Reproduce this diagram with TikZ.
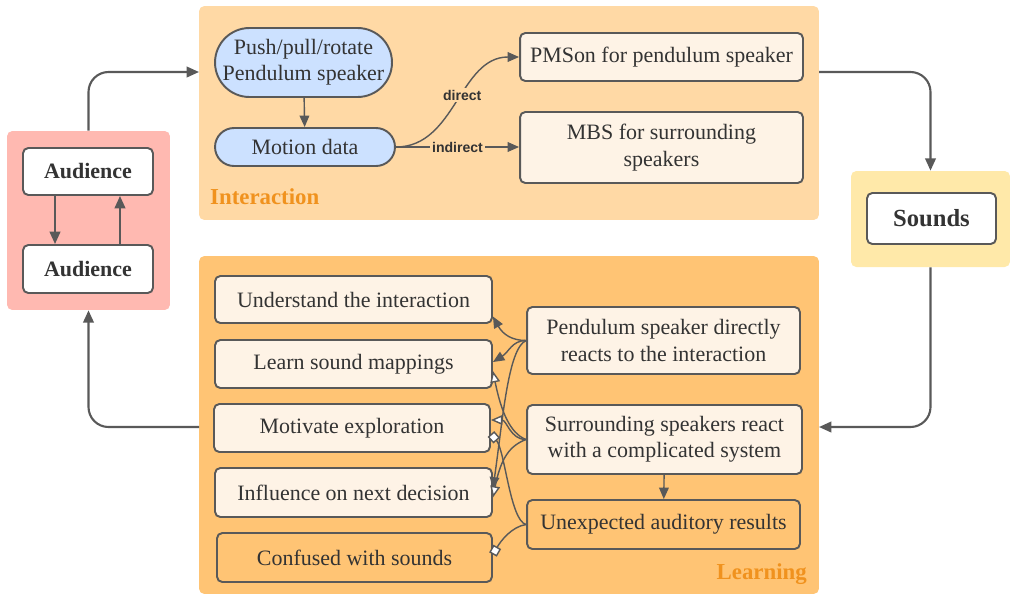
\documentclass[tikz,border=0pt]{standalone}
\usepackage{fontspec}
\setmainfont{Liberation Serif}
\newfontfamily\tagfont{Liberation Sans}
\usetikzlibrary{arrows.meta,positioning}

\definecolor{lineg}{HTML}{595959}
\definecolor{txtg}{HTML}{333333}
\definecolor{cream}{HTML}{FEF3E6}
\definecolor{skyblue}{HTML}{CCE1FF}
\definecolor{interfill}{HTML}{FFD9A5}
\definecolor{learnfill}{HTML}{FFC474}
\definecolor{audfill}{HTML}{FFB9B1}
\definecolor{sndfill}{HTML}{FFE9A9}
\definecolor{orangetxt}{HTML}{F0921E}

\tikzset{
  panel/.style={fill=#1, rounded corners=3pt, inner sep=0pt},
  box/.style={draw=lineg, line width=1.1pt, rounded corners=3pt, fill=cream,
    text=txtg, font=\fontsize{12.5}{15}\selectfont, align=center, inner sep=2pt},
  pill/.style={box, fill=skyblue, rounded corners=0.4cm},
  headbox/.style={box, fill=white, font=\fontsize{12.5}{15}\selectfont\bfseries},
  flow/.style={draw=lineg, line width=1.2pt, rounded corners=0.4cm,
    -{Triangle[length=7pt,width=6pt]}},
  link/.style={draw=lineg, line width=0.8pt, -{Triangle[length=6.5pt,width=5.5pt]}},
  openlink/.style={draw=lineg, line width=0.8pt, -{Triangle[open,length=6.5pt,width=5.5pt,fill=white]}},
  sqlink/.style={draw=lineg, line width=0.8pt, -{Square[open,length=5pt,width=5pt,fill=white]}},
  tag/.style={font=\tagfont\fontsize{8}{9}\selectfont\bfseries, text=txtg, inner sep=1pt},
  panelname/.style={font=\fontsize{13}{15}\selectfont\bfseries, text=orangetxt}
}

\begin{document}
\begin{tikzpicture}[x=0.02cm,y=-0.02cm]
  \useasboundingbox (0,0) rectangle (1010,596);

  % panels
  \node[panel=interfill, minimum width=12.4cm, minimum height=4.28cm] (interpanel) at (509,113) {};
  \node[panel=learnfill, minimum width=12.4cm, minimum height=6.76cm] (learnpanel) at (509,425) {};
  \node[panel=audfill, minimum width=3.26cm, minimum height=3.58cm] (audpanel) at (88.5,220.5) {};
  \node[panel=sndfill, minimum width=3.18cm, minimum height=1.92cm] (sndpanel) at (930.5,219) {};

  \node[panelname, anchor=west] (intername) at (204,197) {Interaction};
  \node[panelname, anchor=east] (learnname) at (813,574) {Learning};

  % audience
  \node[headbox, minimum width=2.6cm, minimum height=0.94cm] (aud1) at (88,171.5) {Audience};
  \node[headbox, minimum width=2.6cm, minimum height=0.96cm] (aud2) at (88,269) {Audience};
  \draw[flow] ([xshift=-0.66cm]aud1.south) -- ([xshift=-0.66cm]aud2.north);
  \draw[flow] ([xshift=0.64cm]aud2.north) -- ([xshift=0.64cm]aud1.south);

  % sounds
  \node[headbox, font=\fontsize{14}{16}\selectfont\bfseries, minimum width=2.58cm, minimum height=1.02cm] (snd) at (931.5,218.5) {Sounds};

  % interaction
  \node[pill, minimum width=3.54cm, minimum height=1.38cm, rounded corners=0.69cm] (push) at (303.5,62.5) {Push/pull/rotate\\Pendulum speaker};
  \node[pill, minimum width=3.6cm, minimum height=0.76cm, rounded corners=0.38cm] (motion) at (305,147) {Motion data};
  \node[box, minimum width=5.66cm, minimum height=0.96cm] (pmson) at (661.5,57) {PMSon for pendulum speaker};
  \node[box, minimum width=5.66cm, minimum height=1.42cm] (mbs) at (661.5,147.5) {MBS for surrounding\\speakers};

  \draw[link] (push) -- (motion);
  \draw[link] (motion.east) to[out=0,in=180] node[tag, pos=0.55, fill=interfill] {direct} (pmson.west);
  \draw[link] (motion.east) -- node[tag, pos=0.5, fill=interfill] {indirect} (motion.east -| mbs.west);

  % learning
  \node[box, minimum width=5.54cm, minimum height=0.94cm] (under) at (353.5,299.5) {Understand the interaction};
  \node[box, minimum width=5.54cm, minimum height=0.96cm] (learn) at (353.5,364) {Learn sound mappings};
  \node[box, minimum width=5.52cm, minimum height=0.96cm] (motiv) at (352,428) {Motivate exploration};
  \node[box, minimum width=5.54cm, minimum height=0.98cm] (infl) at (353.5,492.5) {Influence on next decision};
  \node[box, fill=learnfill, minimum width=5.5cm, minimum height=0.98cm] (confu) at (354.5,557.5) {Confused with sounds};
  \node[box, minimum width=5.46cm, minimum height=1.34cm] (pend) at (663.5,340.5) {Pendulum speaker directly\\reacts to the interaction};
  \node[box, minimum width=5.5cm, minimum height=1.38cm] (surr) at (664.5,439.5) {Surrounding speakers react\\with a complicated system};
  \node[box, fill=learnfill, minimum width=5.46cm, minimum height=0.98cm] (unexp) at (663.5,524.5) {Unexpected auditory results};

  \draw[link] (surr) -- (unexp);

  \draw[link] (pend.west) .. controls +(-14,0) and +(10,18) .. ([yshift=-0.34cm]under.east);
  \draw[link] (pend.west) .. controls +(-14,0) and +(16,-10) .. ([yshift=0.04cm]learn.east);
  \draw[link] (pend.west) .. controls +(-18,8) and +(10,-70) .. ([yshift=0.08cm]infl.east);
  \draw[openlink] (surr.west) .. controls +(-16,-6) and +(8,40) .. ([yshift=-0.14cm]learn.east);
  \draw[openlink] (surr.west) .. controls +(-16,0) and +(16,0) .. ([yshift=0.16cm]motiv.east);
  \draw[openlink] (surr.west) .. controls +(-16,6) and +(8,-40) .. ([yshift=-0.1cm]infl.east);
  \draw[sqlink] (unexp.west) .. controls +(-16,-4) and +(14,16) .. ([yshift=-0.12cm]motiv.east);
  \draw[sqlink] (unexp.west) .. controls +(-14,2) and +(8,-14) .. ([yshift=0.06cm]confu.east);

  % loop between panels
  \coordinate (intoI) at (199,72);
  \coordinate (outofI) at (819,72);
  \coordinate (intoL) at (819,427);
  \coordinate (outofL) at (199,427);
  \draw[flow] (audpanel.north) |- (intoI);
  \draw[flow] (outofI) -| (sndpanel.north);
  \draw[flow] (sndpanel.south) |- (intoL);
  \draw[flow] (outofL) -| (audpanel.south);
\end{tikzpicture}
\end{document}
